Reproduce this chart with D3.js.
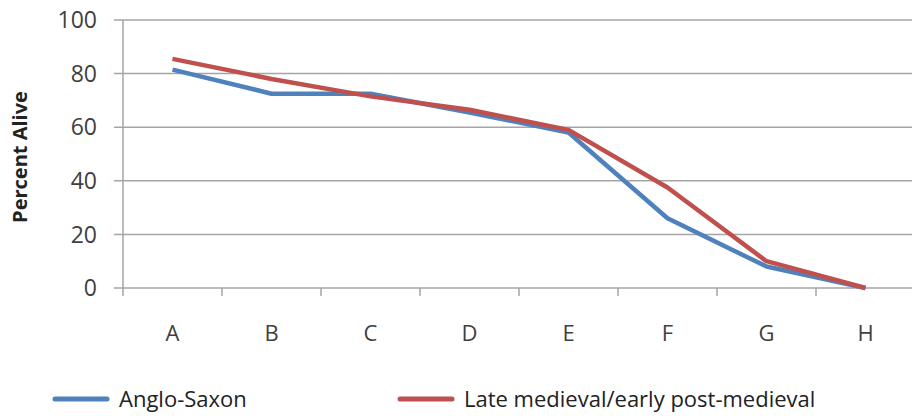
<!DOCTYPE html>
<html>
<head>
<meta charset="utf-8">
<script src="https://cdn.jsdelivr.net/npm/d3@7"></script>
<style>
  body { margin: 0; background: #fff; }
  svg { display: block; font-family: "Open Sans", sans-serif; }
</style>
</head>
<body>
<svg width="912" height="416"></svg>
<script>
const categories = ["A", "B", "C", "D", "E", "F", "G", "H"];
const angloSaxon = [81.5, 72.5, 72.5, 65.5, 58, 26, 8, 0];
const lateMedieval = [85.5, 78, 71.5, 66.5, 59, 37.5, 10, 0];
const yTicks = [0, 20, 40, 60, 80, 100];

const seriesNames = ["Anglo-Saxon", "Late medieval/early post-medieval"];
const seriesColors = ["#4f81bd", "#c0504d"];

const svg = d3.select("svg");

const x = d3.scaleBand()
    .domain(categories)
    .range([123, 915]);

const y = d3.scaleLinear()
    .domain([0, 100])
    .range([288, 20]);

// gridlines
svg.append("g")
    .selectAll("line")
    .data(yTicks)
    .join("line")
    .attr("x1", 114)
    .attr("x2", 912)
    .attr("y1", d => y(d))
    .attr("y2", d => y(d))
    .attr("stroke", "#a5a5a5")
    .attr("stroke-width", 1.5);

// y axis line
svg.append("line")
    .attr("x1", 123).attr("x2", 123)
    .attr("y1", y(100)).attr("y2", y(0))
    .attr("stroke", "#a5a5a5")
    .attr("stroke-width", 1.5);

// y tick labels
svg.append("g")
    .selectAll("text")
    .data(yTicks)
    .join("text")
    .attr("x", 97)
    .attr("y", d => y(d))
    .attr("dy", "0.36em")
    .attr("text-anchor", "end")
    .attr("font-size", "23px")
    .attr("fill", "#404040")
    .text(d => d);

// x tick marks
const xTickPos = categories.map(c => x(c)).concat([x.range()[1]]);
svg.append("g")
    .selectAll("line")
    .data(xTickPos)
    .join("line")
    .attr("x1", d => d).attr("x2", d => d)
    .attr("y1", y(0)).attr("y2", y(0) + 8)
    .attr("stroke", "#a5a5a5")
    .attr("stroke-width", 1.5);

// x labels
svg.append("g")
    .selectAll("text")
    .data(categories)
    .join("text")
    .attr("x", d => x(d) + x.bandwidth() / 2)
    .attr("y", 341)
    .attr("text-anchor", "middle")
    .attr("font-size", "22px")
    .attr("fill", "#404040")
    .text(d => d);

// y axis title
svg.append("text")
    .attr("transform", "translate(27, 157) rotate(-90)")
    .attr("text-anchor", "middle")
    .attr("font-size", "20px")
    .attr("font-weight", "bold")
    .attr("fill", "#222")
    .text("Percent Alive");

const line = d3.line()
    .x((d, i) => x(categories[i]) + x.bandwidth() / 2)
    .y(d => y(d));

[angloSaxon, lateMedieval].forEach((vals, i) => {
    svg.append("path")
        .datum(vals)
        .attr("fill", "none")
        .attr("stroke", seriesColors[i])
        .attr("stroke-width", 4.5)
        .attr("stroke-linejoin", "round")
        .attr("d", line);
});

// legend
const legendX = [55, 400];
const legend = svg.append("g");
seriesNames.forEach((name, i) => {
    legend.append("line")
        .attr("x1", legendX[i]).attr("x2", legendX[i] + 52)
        .attr("y1", 399).attr("y2", 399)
        .attr("stroke", seriesColors[i])
        .attr("stroke-width", 5)
        .attr("stroke-linecap", "round");
    legend.append("text")
        .attr("x", legendX[i] + 64)
        .attr("y", 407)
        .attr("font-size", "22px")
        .attr("fill", "#222")
        .text(name);
});
</script>
</body>
</html>
